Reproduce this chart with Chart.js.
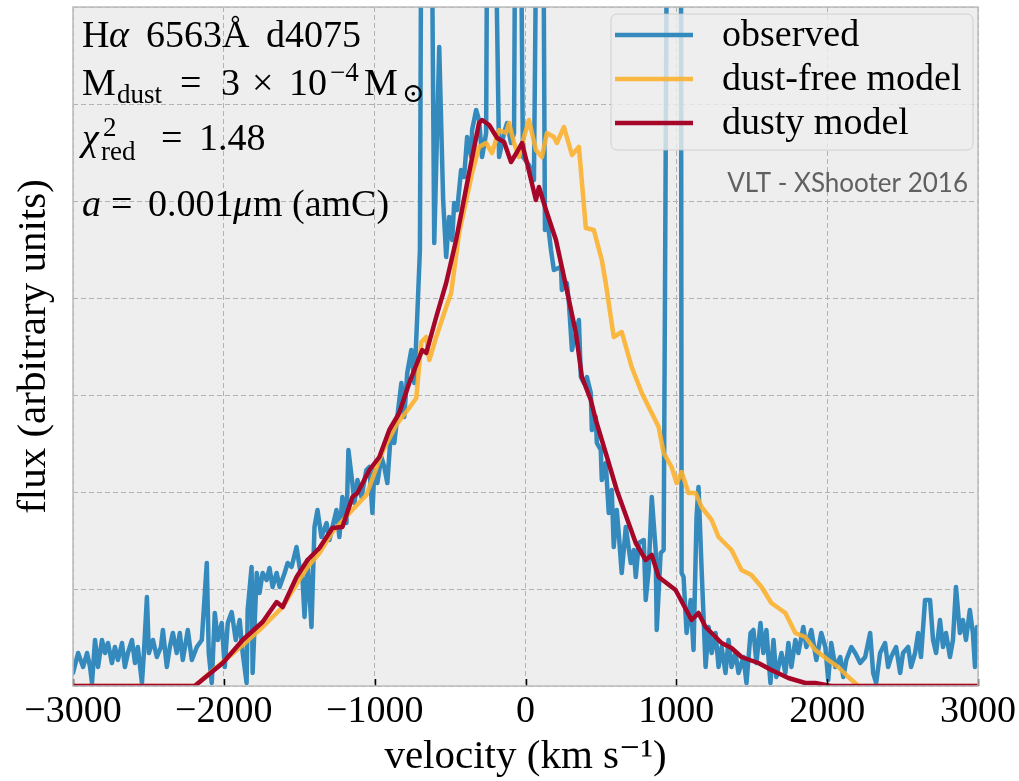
<!DOCTYPE html>
<html><head><meta charset="utf-8">
<script src="https://cdn.jsdelivr.net/npm/chart.js@4.4.0/dist/chart.umd.min.js"></script>
<style>html,body{margin:0;padding:0;background:#fff;overflow:hidden}</style>
</head><body><canvas id="c" width="1019" height="781"></canvas>
<script>
// ---------------- data (velocity in km/s, flux in arbitrary units) ----------------
const obsV = [-3000,-2966,-2933,-2907,-2887,-2874,-2854,-2834,-2808,-2788,-2768,-2742,-2722,-2702,-2675,-2656,-2636,-2609,-2589,-2570,-2543,-2530,-2510,-2497,-2470,-2444,-2417,-2404,-2378,-2358,-2338,-2312,-2292,-2272,-2239,-2212,-2179,-2146,-2113,-2100,-2080,-2060,-2040,-2014,-1994,-1974,-1948,-1921,-1895,-1875,-1849,-1842,-1816,-1809,-1782,-1763,-1743,-1716,-1697,-1677,-1650,-1630,-1597,-1577,-1551,-1518,-1498,-1478,-1465,-1445,-1419,-1399,-1379,-1353,-1319,-1300,-1280,-1253,-1234,-1214,-1187,-1174,-1148,-1134,-1114,-1088,-1055,-1035,-1015,-1002,-982,-956,-936,-916,-890,-870,-850,-823,-804,-784,-757,-737,-718,-700,-688,-628,-605,-572,-546,-526,-506,-486,-473,-453,-427,-407,-387,-360,-354,-327,-308,-288,-261,-250,-212,-175,-142,-122,-96,-76,-64,-38,-17,23,56,80,114,129,142,169,188,235,241,274,288,308,334,354,367,387,407,433,440,466,473,499,506,532,552,572,585,605,618,638,665,698,718,731,751,784,797,817,837,863,870,896,916,942,1030,1035,1048,1068,1095,1114,1134,1147,1167,1194,1214,1234,1260,1280,1300,1326,1346,1366,1392,1412,1445,1465,1492,1511,1531,1558,1577,1597,1624,1644,1663,1697,1723,1743,1763,1789,1809,1842,1862,1895,1928,1961,1988,2007,2027,2054,2087,2107,2127,2160,2186,2219,2252,2285,2305,2325,2351,2384,2404,2424,2457,2484,2503,2537,2556,2583,2603,2622,2649,2682,2702,2722,2748,2768,2788,2814,2834,2854,2880,2900,2920,2946,2966,2980,2993];
const obsF = [13,33,19,33,19,3,46,19,46,33,43,23,39,26,43,19,33,46,23,39,3,33,89,33,46,29,39,56,19,39,53,33,53,26,56,26,39,46,123,33,3,73,46,63,19,63,74,46,66,33,3,76,119,13,113,93,113,106,118,99,113,99,113,123,119,139,119,106,69,126,59,159,176,149,163,146,159,176,149,189,163,236,203,183,206,189,216,219,173,216,203,229,219,203,259,243,269,303,269,313,336,303,369,436,900,900,443,639,486,429,469,446,483,476,516,509,549,529,556,576,566,529,553,900,900,529,553,563,543,553,900,900,529,521,506,900,900,456,471,436,416,419,396,403,383,336,353,366,309,303,309,293,256,269,243,236,206,223,173,196,139,176,153,113,159,123,136,109,143,146,86,116,189,136,56,133,136,900,900,113,109,53,86,36,169,199,119,19,59,33,53,19,39,13,46,19,33,13,29,3,53,56,23,63,33,56,3,46,9,33,13,43,19,46,33,59,39,56,26,53,39,6,43,19,29,9,26,39,33,23,29,53,13,3,33,43,19,29,39,13,33,39,19,33,53,29,86,86,46,33,66,39,53,29,46,99,53,66,46,76,53,19,59];

const dustFreeV = [-3000,-2193,-2007,-1875,-1743,-1610,-1518,-1445,-1366,-1280,-1167,-1055,-949,-857,-771,-724,-691,-658,-638,-592,-526,-493,-440,-354,-308,-261,-222,-175,-129,-109,-76,-43,-10,23,69,109,142,188,208,255,308,354,400,453,506,532,585,638,704,771,817,883,916,969,1002,1035,1081,1128,1167,1234,1280,1366,1432,1498,1565,1630,1723,1789,1855,1921,2007,2073,2140,2206,3000];
const dustFreeF = [0,0,24,41,59,79,102,119,133,154,173,191,234,261,278,288,344,349,326,349,379,393,453,513,539,543,533,556,553,563,543,529,549,566,536,529,553,549,543,559,531,539,458,456,426,403,349,354,319,293,279,259,233,219,203,214,193,193,179,166,149,136,116,111,99,83,73,53,49,36,26,19,9,0,0];

const dustyV = [-3000,-2193,-2007,-1875,-1743,-1650,-1610,-1518,-1445,-1366,-1280,-1214,-1147,-1114,-1035,-969,-903,-837,-771,-685,-658,-592,-526,-460,-374,-308,-288,-241,-188,-142,-96,-56,-23,10,69,89,136,202,241,288,334,374,433,466,552,605,731,797,837,883,995,1101,1147,1194,1300,1366,1432,1544,1630,1743,1855,1921,2027,3000];
const dustyF = [0,0,23,46,64,84,79,109,126,138,158,159,189,193,216,229,256,273,303,336,333,369,403,446,513,563,566,561,548,544,524,534,543,523,486,499,476,446,419,386,353,309,286,266,223,196,143,126,131,109,96,66,73,59,43,38,29,23,16,8,3,3,0,0];

const seriesLabels = ['observed', 'dust-free model', 'dusty model'];
const xTickValues = [-3000, -2000, -1000, 0, 1000, 2000, 3000];
const fluxMax = 679, fluxStep = 97;

// ---------------- styling ----------------
const SERIF = '"Liberation Serif", "DejaVu Serif", serif';
const colors = ['#348ABD', 'rgba(251,176,45,0.9)', '#A60628'];
const zip = (xs, ys) => xs.map((x, i) => ({x, y: ys[i]}));

const annotPlugin = {
  id: 'annot',
  beforeDraw(chart) {
    const {ctx, chartArea: a} = chart;
    ctx.save();
    ctx.fillStyle = '#ffffff';
    ctx.fillRect(0, 0, chart.width, chart.height);
    ctx.fillStyle = '#eeeeee';
    ctx.fillRect(a.left, a.top, a.right - a.left, a.bottom - a.top);
    ctx.restore();
  },
  afterDatasetsDraw(chart) {
    const {ctx, chartArea: a} = chart;
    const xs = chart.scales.x;
    ctx.save();
    // inward ticks at bottom
    ctx.strokeStyle = '#000';
    ctx.lineWidth = 1.5;
    xTickValues.forEach(v => {
      const px = Math.round(xs.getPixelForValue(v)) + 0.5;
      ctx.beginPath(); ctx.moveTo(px, a.bottom); ctx.lineTo(px, a.bottom - 7); ctx.stroke();
    });

    // legend
    const lx = 611, ly = 14, lw = 362, lh = 136, r = 6;
    ctx.beginPath();
    ctx.roundRect(lx, ly, lw, lh, r);
    ctx.fillStyle = 'rgba(238,238,238,0.8)';
    ctx.fill();
    ctx.strokeStyle = 'rgba(200,200,200,0.8)';
    ctx.lineWidth = 1;
    ctx.stroke();
    const rows = [35, 79, 123];
    chart.data.datasets.forEach((ds, i) => {
      ctx.strokeStyle = ds.borderColor;
      ctx.lineWidth = 4.5;
      ctx.beginPath(); ctx.moveTo(615, rows[i]); ctx.lineTo(693, rows[i]); ctx.stroke();
      ctx.fillStyle = '#000';
      ctx.font = '38px ' + SERIF;
      ctx.textBaseline = 'alphabetic';
      ctx.textAlign = 'left';
      ctx.fillText(ds.label, 722, rows[i] + 11);
    });

    // instrument label
    ctx.font = '26px Lato, "Open Sans", sans-serif';
    ctx.fillStyle = 'rgba(80,80,80,0.9)';
    ctx.textAlign = 'right';
    ctx.fillText('VLT - XShooter 2016', 968, 192);

    // annotation text: runs placed at measured x positions
    ctx.textAlign = 'left';
    ctx.fillStyle = '#000';
    const S = 38, s = 27;
    const draw = (y, runs) => {
      runs.forEach(rn => {
        ctx.font = (rn.it ? 'italic ' : '') + (rn.s || S) + 'px ' + SERIF;
        ctx.fillText(rn.t, rn.x, y + (rn.dy || 0));
      });
    };
    draw(47, [{t: 'H', x: 82}, {t: 'α', it: true, x: 109}, {t: '6563Å', x: 146}, {t: 'd4075', x: 266}]);
    draw(95, [{t: 'M', x: 82}, {t: 'dust', s: s, dy: 8, x: 117}, {t: '=', x: 180}, {t: '3', x: 221}, {t: '×', x: 252},
              {t: '10', x: 289}, {t: '−4', s: s, dy: -14, x: 330}, {t: 'M', x: 364}, {t: '⊙', s: s, dy: 7, x: 402}]);
    draw(150, [{t: 'χ', it: true, x: 82}, {t: '2', s: s, dy: -14, x: 103}, {t: 'red', s: s, dy: 10, x: 101}, {t: '=', x: 161}, {t: '1.48', x: 199}]);
    draw(216, [{t: 'a', it: true, x: 82}, {t: '=', x: 111}, {t: '0.001', x: 148}, {t: 'μ', it: true, x: 233}, {t: 'm', x: 253}, {t: '(amC)', x: 292}]);
    ctx.restore();
  },
  afterDraw(chart) {
    const {ctx, chartArea: a} = chart;
    ctx.save();
    ctx.strokeStyle = '#bcbcbc';
    ctx.lineWidth = 1.5;
    ctx.strokeRect(a.left, a.top, a.right - a.left, a.bottom - a.top);
    ctx.restore();
  }
};

new Chart(document.getElementById('c'), {
  type: 'line',
  data: {
    datasets: [
      {label: seriesLabels[0], data: zip(obsV, obsF), borderColor: colors[0], borderWidth: 4.5, order: 3},
      {label: seriesLabels[1], data: zip(dustFreeV, dustFreeF), borderColor: colors[1], borderWidth: 4.5, order: 2},
      {label: seriesLabels[2], data: zip(dustyV, dustyF), borderColor: colors[2], borderWidth: 4.5, order: 1}
    ]
  },
  options: {
    responsive: false,
    animation: false,
    devicePixelRatio: 1,
    layout: {padding: {top: 7, right: 38, left: 0, bottom: 0}},
    elements: {
      point: {radius: 0},
      line: {tension: 0, fill: false, borderJoinStyle: 'round', borderCapStyle: 'round'}
    },
    datasets: {line: {clip: 0}},
    plugins: {legend: {display: false}, tooltip: {enabled: false}},
    scales: {
      x: {
        type: 'linear', min: -3000, max: 3000,
        afterFit: s => { s.height = 95; },
        afterBuildTicks: s => { s.ticks = xTickValues.map(v => ({value: v})); },
        ticks: {
          padding: 3, color: '#000', maxRotation: 0, autoSkip: false,
          font: {family: SERIF, size: 38},
          callback: v => (v < 0 ? '−' + Math.abs(v) : String(v))
        },
        grid: {color: '#b2b2b2', lineWidth: 1, drawTicks: false},
        border: {display: false, dash: [5, 3]},
        title: {display: true, text: 'velocity (km s⁻¹)', color: '#000', font: {family: SERIF, size: 41, lineHeight: 1.15}, padding: {top: 0, bottom: 0}}
      },
      y: {
        type: 'linear', min: 0, max: fluxMax,
        afterFit: s => { s.width = 73; },
        ticks: {display: false, stepSize: fluxStep},
        grid: {color: '#b2b2b2', lineWidth: 1, drawTicks: false},
        border: {display: false, dash: [5, 3]},
        title: {display: true, text: 'flux (arbitrary units)', color: '#000', font: {family: SERIF, size: 41, lineHeight: 1.2}, padding: {top: 10, bottom: 0}}
      }
    }
  },
  plugins: [annotPlugin]
});
</script></body></html>
